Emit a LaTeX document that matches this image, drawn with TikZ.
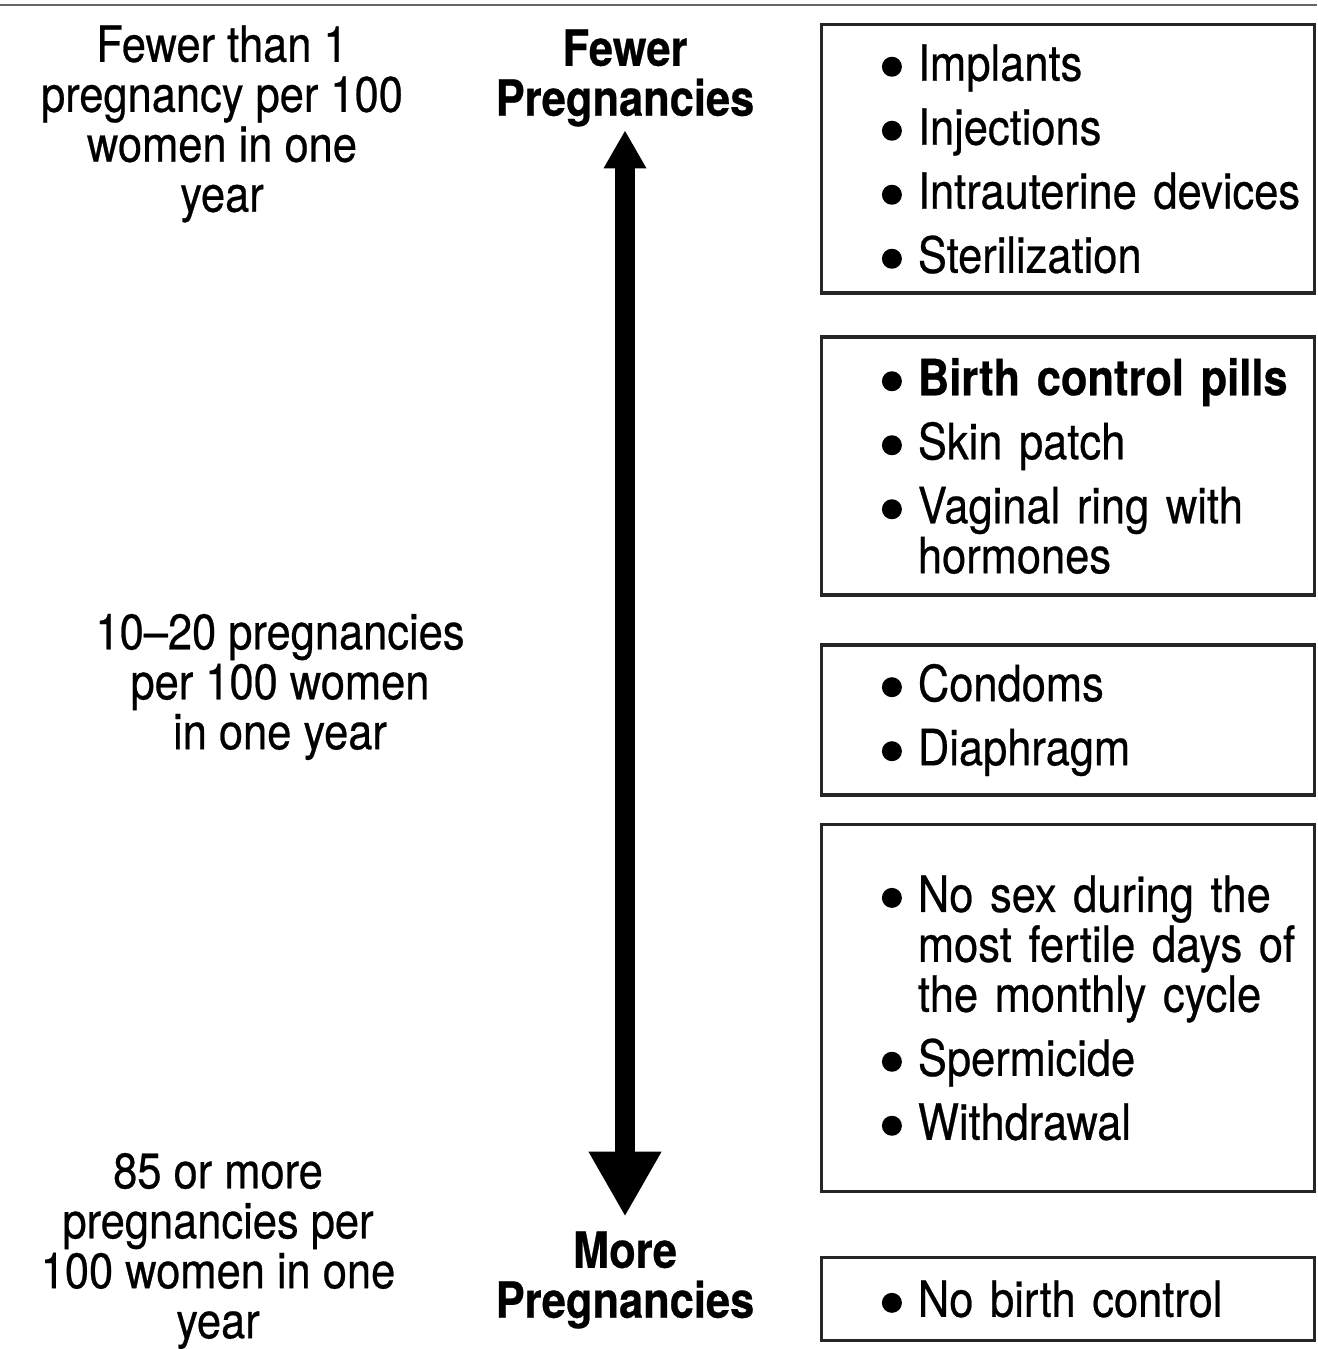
\documentclass[tikz,border=0pt]{standalone}
\usepackage{fontspec}
\setmainfont[FakeStretch=0.87, FakeBold=0.5]{TeX Gyre Heros}
\usetikzlibrary{arrows.meta}

% bullet item of a box
\newcommand{\bitem}[1]{\noindent\hangindent=0.36cm\hangafter=1\makebox[0.36cm][l]{\tikz[baseline=0pt]\fill (0.1cm,0.14cm) circle (0.1cm);}#1\par}
\newcommand{\boxsetup}{\setlength{\parskip}{4pt}\setlength{\leftskip}{0.58cm}\hyphenpenalty=10000\relax}

\tikzset{
	rate/.style={align=center, inner sep=0pt, font=\fontsize{14.2pt}{14.2pt}\selectfont},
	head/.style={rate, font=\fontsize{14.2pt}{14.2pt}\selectfont\bfseries},
	methods/.style={draw=black!85, line width=0.9pt, minimum width=4.92cm, inner xsep=0.02cm, inner ysep=0pt,
		text width=4.88cm, align=left, font=\fontsize{14.2pt}{14.2pt}\selectfont, execute at begin node=\boxsetup},
}

\begin{document}
\begin{tikzpicture}[x=0.01cm, y=-0.01cm]
				\useasboundingbox (0,0) rectangle (1317,1349);
				% top rule
				\draw[black!60, line width=0.6pt] (0,5) -- (1317,5);
				
				% rates on the left
				\node[rate] (rate1) at (222,124) {Fewer than 1\\pregnancy per 100\\women in one\\year};
				\node[rate] (rate2) at (280,687) {10--20 pregnancies\\per 100 women\\in one year};
				\node[rate] (rate3) at (218,1251) {85 or more\\pregnancies per\\100 women in one\\year};
				
				% scale arrow
				\node[head] (fewer) at (625,78) {Fewer\\Pregnancies};
				\node[head] (more) at (625,1280) {More\\Pregnancies};
				\draw[line width=0.2cm, shorten <=0.03cm, shorten >=0.14cm,
					{Triangle[width=0.4cm,length=0.38cm]}-{Triangle[width=0.68cm,length=0.65cm]}] (fewer) -- (more);
				
				% boxes of methods
				\node[methods, minimum height=2.68cm] (box1) at (1068,159) {%
					\bitem{Implants}\bitem{Injections}\bitem{Intrauterine devices}\bitem{Sterilization}};
				\node[methods, minimum height=2.58cm] (box2) at (1068,466) {%
					\bitem{\textbf{Birth control pills}}\bitem{Skin patch}\bitem{Vaginal ring with\newline hormones}};
				\node[methods, minimum height=1.50cm] (box3) at (1068,720) {%
					\bitem{Condoms}\bitem{Diaphragm}};
				\node[methods, minimum height=3.66cm] (box4) at (1068,1008) {%
					\bitem{No sex during the\newline most fertile days of\newline the monthly cycle}\bitem{Spermicide}\bitem{Withdrawal}};
				\node[methods, minimum height=0.83cm] (box5) at (1068,1299) {%
					\bitem{No birth control}};
\end{tikzpicture}
\end{document}
